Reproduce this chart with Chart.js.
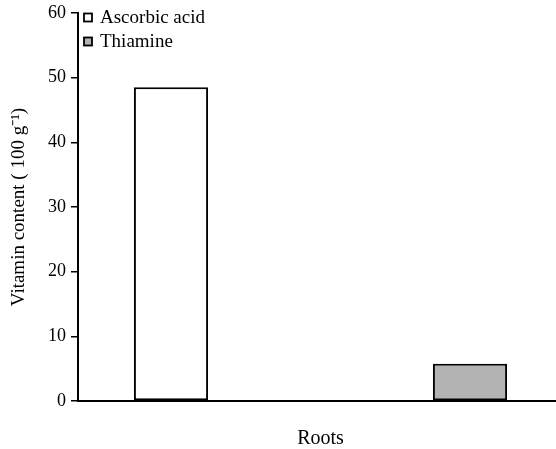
<!DOCTYPE html>
<html><head><meta charset="utf-8">
<script src="https://cdn.jsdelivr.net/npm/chart.js@4"></script>
<style>
html,body{margin:0;padding:0;background:#fff;overflow:hidden;}
#clip{width:556px;height:449px;overflow:hidden;position:relative;}
#wrap{width:563px;height:449px;position:absolute;left:0;top:0;}
</style></head>
<body>
<div id="clip"><div id="wrap"><canvas id="c"></canvas></div></div>
<script>
const categories = ['Roots'];
const seriesNames = ['Ascorbic acid', 'Thiamine'];
const ascorbicAcid = [48.5];
const thiamine = [5.75];
const yTicks = [0, 10, 20, 30, 40, 50, 60];
const yTitle = 'Vitamin content ( 100 g\u207B\u00B9)';

const FONT = '"Liberation Serif", "Times New Roman", serif';

const legendPlugin = {
  id: 'innerLegend',
  afterDraw(chart) {
    const ctx = chart.ctx;
    const a = chart.chartArea;
    ctx.save();
    ctx.font = '19px ' + FONT;
    ctx.textBaseline = 'middle';
    chart.data.datasets.forEach((ds, i) => {
      const x = a.left + 6;
      const y = a.top + 0.5 + i * 24;
      ctx.fillStyle = ds.backgroundColor;
      ctx.fillRect(x, y, 8, 8);
      ctx.strokeStyle = '#000';
      ctx.lineWidth = 1.8;
      ctx.strokeRect(x, y, 8, 8);
      ctx.fillStyle = '#000';
      ctx.fillText(ds.label, x + 16, y + 5);
    });
    ctx.restore();
  }
};

new Chart(document.getElementById('c'), {
  type: 'bar',
  data: {
    labels: categories,
    datasets: [
      { label: seriesNames[0], data: ascorbicAcid, backgroundColor: '#ffffff', borderColor: '#000', borderWidth: 2, borderSkipped: false },
      { label: seriesNames[1], data: thiamine, backgroundColor: '#b3b3b3', borderColor: '#000', borderWidth: 2, borderSkipped: false }
    ]
  },
  options: {
    responsive: true,
    maintainAspectRatio: false,
    animation: false,
    categoryPercentage: 1.233,
    barPercentage: 0.248,
    layout: { padding: { top: 0, left: 0, right: 0, bottom: 0 } },
    plugins: { legend: { display: false }, tooltip: { enabled: false } },
    scales: {
      x: {
        grid: { display: false, drawTicks: false },
        border: { color: '#000', width: 2 },
        ticks: { color: '#000', font: { family: FONT, size: 20 }, padding: 26 },
        afterFit(s) { s.height = 48; }
      },
      y: {
        min: 0, max: 60,
        afterBuildTicks(s) { s.ticks = yTicks.map(v => ({ value: v })); },
        grid: { drawOnChartArea: false, drawTicks: true, tickLength: 7, color: '#000', lineWidth: 1.5 },
        border: { color: '#000', width: 2 },
        ticks: { color: '#000', font: { family: FONT, size: 18 }, padding: 5 },
        title: { display: true, text: yTitle, color: '#000', font: { family: FONT, size: 19 }, padding: { top: 8, bottom: 0 } },
        afterFit(s) { s.width = 78; s.paddingTop = 13; }
      }
    }
  },
  plugins: [legendPlugin]
});
</script>
</body></html>
